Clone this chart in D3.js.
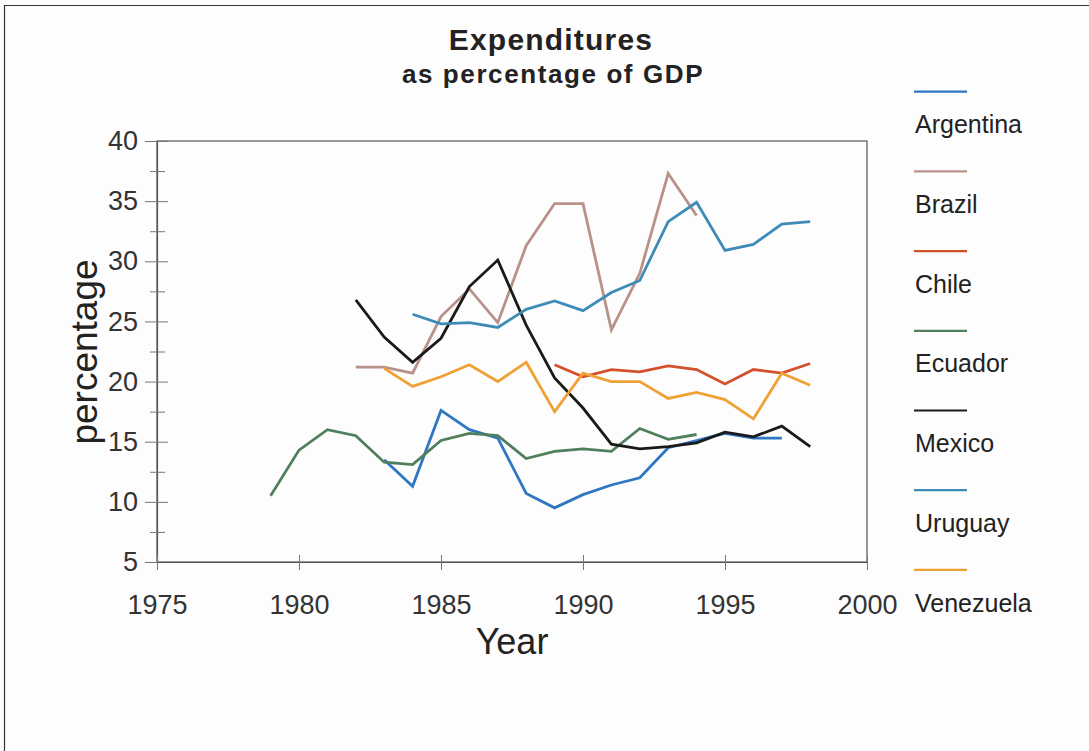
<!DOCTYPE html>
<html>
<head>
<meta charset="utf-8">
<script src="https://cdn.jsdelivr.net/npm/d3@7"></script>
<style>
  html, body { margin: 0; padding: 0; background: #fdfdfd; }
  svg { display: block; }
  text { font-family: "Liberation Sans", Arial, Helvetica, sans-serif; }
</style>
</head>
<body>
<svg id="chart" width="1089" height="751"></svg>
<script>
// ---- data ----
const years = [1979,1980,1981,1982,1983,1984,1985,1986,1987,1988,1989,1990,1991,1992,1993,1994,1995,1996,1997,1998];
const countries = ["Argentina","Brazil","Chile","Ecuador","Mexico","Uruguay","Venezuela"];
const argentina = [null,null,null,null,13.5,11.3,17.6,16.0,15.3,10.7,9.5,10.6,11.4,12.0,14.5,15.1,15.7,15.3,15.3,null];
const brazil    = [null,null,null,21.2,21.2,20.7,25.4,27.7,24.9,31.3,34.8,34.8,24.3,29.0,37.3,33.8,null,null,null,null];
const chile     = [null,null,null,null,null,null,null,null,null,null,21.4,20.4,21.0,20.8,21.3,21.0,19.8,21.0,20.7,21.5];
const ecuador   = [10.5,14.3,16.0,15.5,13.3,13.1,15.1,15.7,15.5,13.6,14.2,14.4,14.2,16.1,15.2,15.6,null,null,null,null];
const mexico    = [null,null,null,26.8,23.7,21.6,23.6,27.9,30.1,24.7,20.3,17.8,14.8,14.4,14.6,14.9,15.8,15.4,16.3,14.6];
const uruguay   = [null,null,null,null,null,25.6,24.8,24.9,24.5,26.0,26.7,25.9,27.4,28.4,33.3,34.9,30.9,31.4,33.1,33.3];
const venezuela = [null,null,null,null,21.1,19.6,20.4,21.4,20.0,21.6,17.5,20.7,20.0,20.0,18.6,19.1,18.5,16.9,20.7,19.7];
const seriesValues = [argentina, brazil, chile, ecuador, mexico, uruguay, venezuela];
const colors = ["#2f77c0","#b8918a","#d4502c","#4f7f5c","#1a1a1a","#3e8bb8","#f0a135"];
const xTicks = [1975,1980,1985,1990,1995,2000];
const yTicks = [5,10,15,20,25,30,35,40];
const yMinorTicks = [7.5,12.5,17.5,22.5,27.5,32.5,37.5];
const titleText = "Expenditures";
const subtitleText = "as percentage of GDP";
const xTitle = "Year";
const yTitle = "percentage";

// ---- layout ----
const svg = d3.select("#chart");
const L = 157, R = 867, T = 141, B = 562;
const x = d3.scaleLinear().domain([1975, 2000]).range([L, R]);
const y = d3.scaleLinear().domain([5, 40]).range([B, T]);

// outer border (left & top)
svg.append("line").attr("x1", 4.5).attr("x2", 4.5).attr("y1", 5).attr("y2", 751)
  .attr("stroke", "#333").attr("stroke-width", 1.2);
svg.append("line").attr("x1", 4).attr("x2", 1089).attr("y1", 5.5).attr("y2", 5.5)
  .attr("stroke", "#333").attr("stroke-width", 1.2);

// titles
svg.append("text").attr("x", 551).attr("y", 50).attr("text-anchor", "middle")
  .attr("font-size", 30).attr("font-weight", "bold").attr("letter-spacing", 1.2)
  .attr("fill", "#222").text(titleText);
svg.append("text").attr("x", 553).attr("y", 83).attr("text-anchor", "middle")
  .attr("font-size", 26).attr("font-weight", "bold").attr("letter-spacing", 1.6)
  .attr("fill", "#222").text(subtitleText);

// frame
svg.append("rect").attr("x", L).attr("y", T).attr("width", R - L).attr("height", B - T)
  .attr("fill", "none").attr("stroke", "#555").attr("stroke-width", 1.2);

// y axis (major)
const yAxis = svg.append("g").attr("transform", `translate(${L},0)`)
  .call(d3.axisLeft(y).tickValues(yTicks).tickSize(12).tickSizeOuter(0).tickPadding(7));
yAxis.select(".domain").attr("stroke", "#555").attr("stroke-width", 1.2);
yAxis.selectAll(".tick line").attr("x1", 11).attr("stroke", "#777");
yAxis.selectAll(".tick text").attr("font-size", 27).attr("fill", "#333")
  .attr("font-family", "Liberation Sans, Arial, sans-serif");

// y axis (minor)
const yMinor = svg.append("g").attr("transform", `translate(${L},0)`)
  .call(d3.axisLeft(y).tickValues(yMinorTicks).tickSize(7).tickSizeOuter(0).tickFormat(""));
yMinor.select(".domain").remove();
yMinor.selectAll(".tick line").attr("x1", 8).attr("stroke", "#777");

// x axis
const xAxis = svg.append("g").attr("transform", `translate(0,${B})`)
  .call(d3.axisBottom(x).tickValues(xTicks).tickFormat(d3.format("d")).tickSize(8).tickSizeOuter(0).tickPadding(25));
xAxis.select(".domain").attr("stroke", "#555").attr("stroke-width", 1.2);
xAxis.selectAll(".tick line").attr("y1", -7).attr("stroke", "#777");
xAxis.selectAll(".tick text").attr("font-size", 27).attr("fill", "#333")
  .attr("font-family", "Liberation Sans, Arial, sans-serif");

// axis titles
svg.append("text").attr("x", 512).attr("y", 654).attr("text-anchor", "middle")
  .attr("font-size", 36).attr("fill", "#222").text(xTitle);
svg.append("text").attr("transform", "translate(97,352) rotate(-90)").attr("text-anchor", "middle")
  .attr("font-size", 37).attr("fill", "#222").text(yTitle);

// lines
const line = d3.line()
  .defined(d => d.v != null)
  .x(d => x(d.year))
  .y(d => y(d.v));
countries.forEach((c, i) => {
  const pts = years.map((yr, j) => ({ year: yr, v: seriesValues[i][j] }));
  svg.append("path").datum(pts)
    .attr("d", line)
    .attr("fill", "none")
    .attr("stroke", colors[i])
    .attr("stroke-width", 2.8)
    .attr("stroke-linejoin", "miter");
});

// legend
const lg = svg.append("g");
countries.forEach((c, i) => {
  const ly = 91.7 + i * 79.7;
  lg.append("line").attr("x1", 914).attr("x2", 967).attr("y1", ly).attr("y2", ly)
    .attr("stroke", colors[i]).attr("stroke-width", 2.2);
  lg.append("text").attr("x", 915).attr("y", ly + 41.6)
    .attr("font-size", 25).attr("fill", "#222").text(c);
});
</script>
</body>
</html>
